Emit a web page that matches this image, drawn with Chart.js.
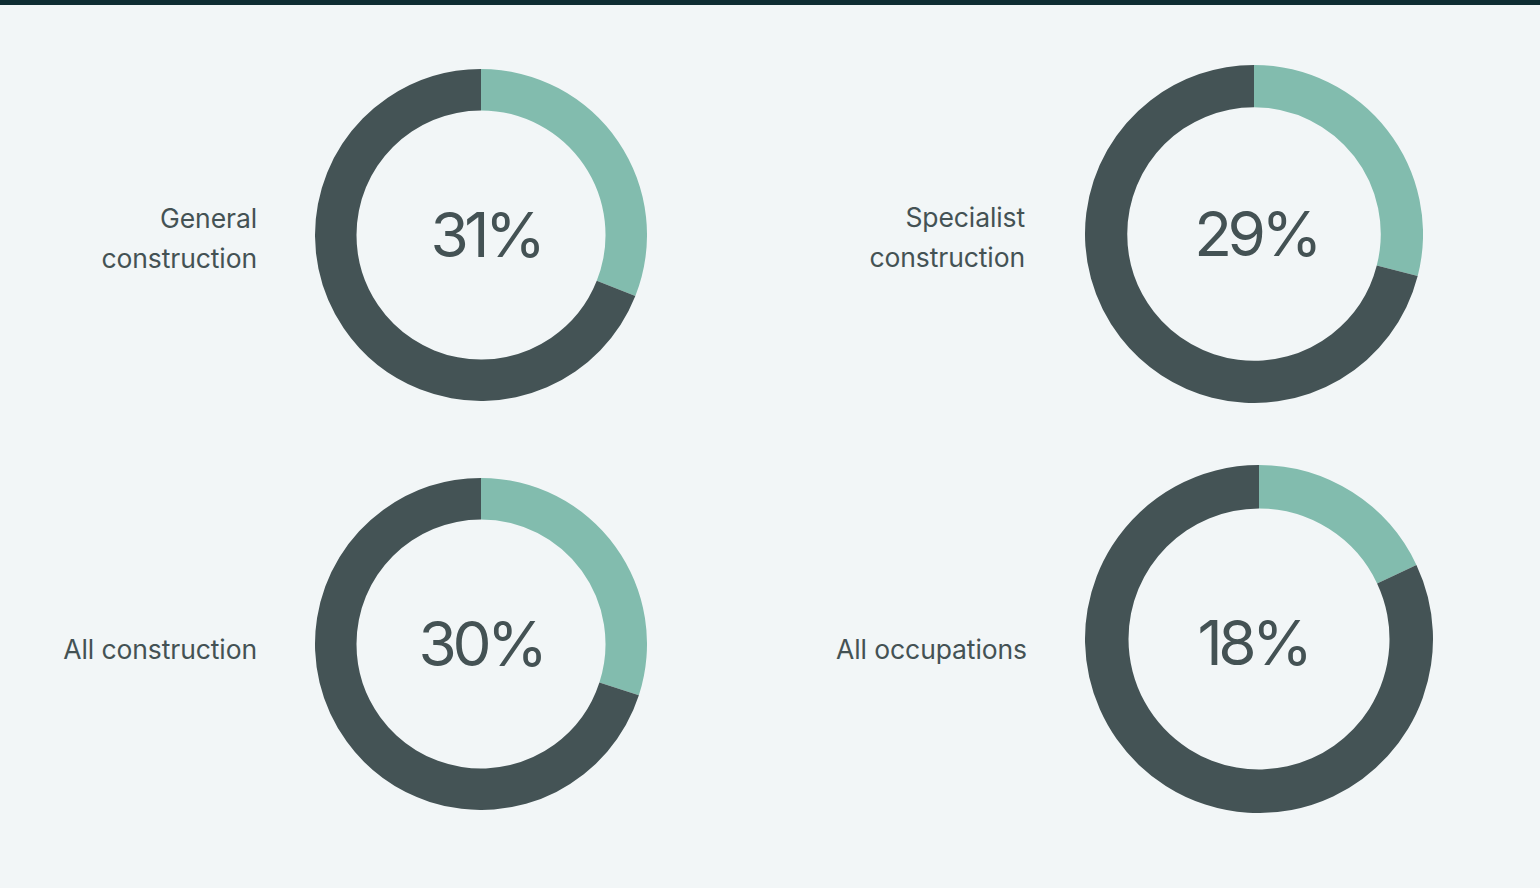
<!DOCTYPE html>
<html>
<head>
<meta charset="utf-8">
<script src="https://cdn.jsdelivr.net/npm/chart.js@4"></script>
<style>
  html, body { margin: 0; padding: 0; }
  body {
    width: 1540px; height: 888px; overflow: hidden;
    background: #f2f6f7;
    border-top: 5px solid #0f2d33;
    box-sizing: border-box;
    position: relative;
    font-family: Inter, "Noto Sans", sans-serif;
    color: #445254;
  }
  .box { position: absolute; }
  .label {
    position: absolute; text-align: right;
    font-size: 26.5px; line-height: 40px; letter-spacing: -0.1px;
  }
  .pct {
    position: absolute; width: 200px; text-align: center;
    font-size: 62px; font-weight: 400; letter-spacing: -4.5px;
    line-height: 70px;
  }
</style>
</head>
<body>
<script>
var categories = ['General<br>construction', 'Specialist<br>construction', 'All construction', 'All occupations'];
var shares = [31, 29, 30, 18];
var colours = ['#82bcae', '#445355'];

// where each ring sits (centre x, centre y, outer radius) and where its texts go
var layout = [
  { cx: 481, cy: 230, r: 166, labelRight: 257, labelY: 233, pctX: 486, pctY: 230 },
  { cx: 1254, cy: 229, r: 169, labelRight: 1025, labelY: 232, pctX: 1256, pctY: 229 },
  { cx: 481, cy: 639, r: 166, labelRight: 257, labelY: 644, pctX: 481, pctY: 639 },
  { cx: 1259, cy: 634, r: 174, labelRight: 1027, labelY: 644, pctX: 1253, pctY: 638 }
];

categories.forEach(function(name, i) {
  var pos = layout[i];
  var size = pos.r * 2;

  var box = document.createElement('div');
  box.className = 'box';
  box.style.left = (pos.cx - pos.r) + 'px';
  box.style.top = (pos.cy - pos.r) + 'px';
  box.style.width = size + 'px';
  box.style.height = size + 'px';
  var canvas = document.createElement('canvas');
  box.appendChild(canvas);
  document.body.appendChild(box);

  new Chart(canvas.getContext('2d'), {
    type: 'doughnut',
    data: {
      labels: ['Share', 'Rest'],
      datasets: [{
        data: [shares[i], 100 - shares[i]],
        backgroundColor: colours,
        borderWidth: 0
      }]
    },
    options: {
      responsive: true,
      maintainAspectRatio: false,
      animation: false,
      cutout: '75%',
      plugins: { legend: { display: false }, tooltip: { enabled: false } }
    }
  });

  var label = document.createElement('div');
  label.className = 'label';
  label.innerHTML = name;
  label.style.right = (1540 - pos.labelRight) + 'px';
  var lines = name.split('<br>').length;
  label.style.top = (pos.labelY - lines * 20) + 'px';
  document.body.appendChild(label);

  var pct = document.createElement('div');
  pct.className = 'pct';
  pct.textContent = shares[i] + '%';
  pct.style.left = (pos.pctX - 100) + 'px';
  pct.style.top = (pos.pctY - 35) + 'px';
  document.body.appendChild(pct);
});
</script>
</body>
</html>
